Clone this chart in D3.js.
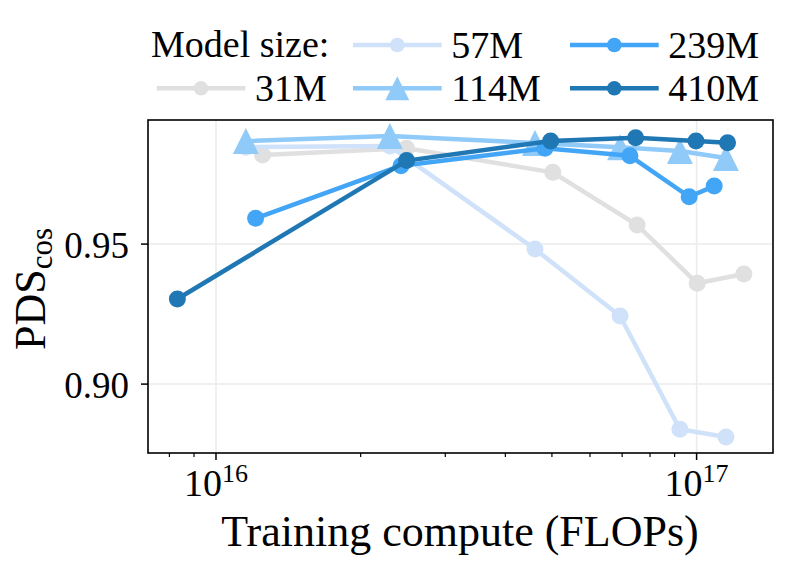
<!DOCTYPE html>
<html>
<head>
<meta charset="utf-8">
<script src="https://cdn.jsdelivr.net/npm/d3@7"></script>
<style>
  body { margin: 0; background: #fff; }
  text { font-family: "Liberation Serif", "Times New Roman", serif; fill: #000; }
</style>
</head>
<body>
<svg id="chart" width="794" height="570"></svg>
<script>
    // model sizes, colours and markers
    var sizes = ["31M", "57M", "114M", "239M", "410M"];
    var colors = ["#e0e0e0", "#d0e2f9", "#90caf9", "#42a5f5", "#1f77b4"];
    var markers = ["circle", "circle", "triangle", "circle", "circle"];

    // training compute (FLOPs) and PDS_cos per model size
    var flops31 = [1.25e16, 2.49e16, 5.02e16, 7.52e16, 1.003e17, 1.254e17];
    var pds31 = [0.9818, 0.9842, 0.9756, 0.9568, 0.9360, 0.9393];
    var flops57 = [1.154e16, 2.30e16, 4.61e16, 6.93e16, 9.23e16, 1.151e17];
    var pds57 = [0.9846, 0.9850, 0.9482, 0.9243, 0.8839, 0.8811];
    var flops114 = [1.154e16, 2.30e16, 4.61e16, 6.93e16, 9.23e16, 1.151e17];
    var pds114 = [0.9868, 0.9886, 0.9861, 0.9846, 0.9832, 0.9807];
    var flops239 = [1.209e16, 2.426e16, 4.835e16, 7.265e16, 9.65e16, 1.088e17];
    var pds239 = [0.9592, 0.9780, 0.9842, 0.9815, 0.9669, 0.9707];
    var flops410 = [8.31e15, 2.493e16, 4.97e16, 7.467e16, 9.97e16, 1.160e17];
    var pds410 = [0.9304, 0.9798, 0.9868, 0.9880, 0.9868, 0.9862];

    // ticks
    var xMajor = [1e16, 1e17];
    var xMinor = [8e15, 9e15, 2e16, 3e16, 4e16, 5e16, 6e16, 7e16, 8e16, 9e16];
    var xMajorLabels = [["10", "16"], ["10", "17"]];
    var yTicks = [0.90, 0.95];

(function() {
    'use strict';

    var flops = [flops31, flops57, flops114, flops239, flops410];
    var pds = [pds31, pds57, pds114, pds239, pds410];

    var svg = d3.select("#chart");
    var pl = 148, pt = 120, pr = 773, pb = 453;

    var x = d3.scaleLog().domain([7.22e15, 1.442e17]).range([pl, pr]);
    var y = d3.scaleLinear().domain([0.8754, 0.9943]).range([pb, pt]);

    // grid
    var grid = svg.append("g");
    grid.selectAll("line.gx").data(xMajor).enter().append("line")
        .attr("x1", function(d) { return x(d); })
        .attr("x2", function(d) { return x(d); })
        .attr("y1", pt).attr("y2", pb)
        .attr("stroke", "#ebebeb").attr("stroke-width", 1.5);
    grid.selectAll("line.gy").data(yTicks).enter().append("line")
        .attr("y1", function(d) { return y(d); })
        .attr("y2", function(d) { return y(d); })
        .attr("x1", pl).attr("x2", pr)
        .attr("stroke", "#ebebeb").attr("stroke-width", 1.5);

    // series
    var line = d3.line()
        .x(function(d) { return x(d[0]); })
        .y(function(d) { return y(d[1]); });

    function triPath(h) {
        return "M0," + (-h) + "L" + h + "," + h + "L" + (-h) + "," + h + "Z";
    }

    sizes.forEach(function(name, i) {
        var pts = d3.zip(flops[i], pds[i]);
        var g = svg.append("g");
        g.append("path")
            .attr("d", line(pts))
            .attr("fill", "none")
            .attr("stroke", colors[i])
            .attr("stroke-width", 4.5)
            .attr("stroke-linejoin", "round");
        if (markers[i] === "triangle") {
            g.selectAll("path.m").data(pts).enter().append("path")
                .attr("class", "m")
                .attr("d", triPath(13))
                .attr("transform", function(d) { return "translate(" + x(d[0]) + "," + y(d[1]) + ")"; })
                .attr("fill", colors[i]);
        } else {
            g.selectAll("circle").data(pts).enter().append("circle")
                .attr("cx", function(d) { return x(d[0]); })
                .attr("cy", function(d) { return y(d[1]); })
                .attr("r", 8.5)
                .attr("fill", colors[i]);
        }
    });

    // frame
    svg.append("rect")
        .attr("x", pl).attr("y", pt)
        .attr("width", pr - pl).attr("height", pb - pt)
        .attr("fill", "none").attr("stroke", "#000").attr("stroke-width", 1.6);

    // x ticks
    var ax = svg.append("g");
    ax.selectAll("line.maj").data(xMajor).enter().append("line")
        .attr("x1", function(d) { return x(d); }).attr("x2", function(d) { return x(d); })
        .attr("y1", pb).attr("y2", pb + 7)
        .attr("stroke", "#000").attr("stroke-width", 1.5);
    ax.selectAll("line.min").data(xMinor).enter().append("line")
        .attr("x1", function(d) { return x(d); }).attr("x2", function(d) { return x(d); })
        .attr("y1", pb).attr("y2", pb + 4)
        .attr("stroke", "#000").attr("stroke-width", 1.2);
    var xl = ax.selectAll("text.xl").data(xMajor).enter().append("text")
        .attr("x", function(d) { return x(d); })
        .attr("y", 496)
        .attr("text-anchor", "middle")
        .style("font-size", "38px");
    xl.append("tspan").text(function(d, i) { return xMajorLabels[i][0]; });
    xl.append("tspan").attr("dy", -14.5).style("font-size", "26px")
        .text(function(d, i) { return xMajorLabels[i][1]; });

    // y ticks
    var ay = svg.append("g");
    ay.selectAll("line").data(yTicks).enter().append("line")
        .attr("x1", pl - 7).attr("x2", pl)
        .attr("y1", function(d) { return y(d); }).attr("y2", function(d) { return y(d); })
        .attr("stroke", "#000").attr("stroke-width", 1.5);
    ay.selectAll("text").data(yTicks).enter().append("text")
        .attr("x", 129)
        .attr("y", function(d) { return y(d) + 14; })
        .attr("text-anchor", "end")
        .style("font-size", "37px")
        .text(function(d) { return d3.format(".2f")(d); });

    // axis labels
    svg.append("text")
        .attr("x", 460)
        .attr("y", 546)
        .attr("text-anchor", "middle")
        .style("font-size", "44px")
        .text("Training compute (FLOPs)");

    var yl = svg.append("text")
        .attr("transform", "translate(45,289) rotate(-90)")
        .attr("text-anchor", "middle")
        .style("font-size", "44px");
    yl.append("tspan").text("PDS");
    yl.append("tspan").attr("dy", 7).style("font-size", "31px").text("cos");

    // legend
    var leg = svg.append("g");
    leg.append("text").attr("x", 151).attr("y", 57).style("font-size", "38px").text("Model size:");
    var legPos = [[156.7, 88.3], [353, 45], [353, 88.3], [570, 45], [570, 88.3]];
    sizes.forEach(function(name, i) {
        var lx = legPos[i][0], ly = legPos[i][1];
        leg.append("line")
            .attr("x1", lx).attr("x2", lx + 88.7)
            .attr("y1", ly).attr("y2", ly)
            .attr("stroke", colors[i]).attr("stroke-width", 4.5);
        if (markers[i] === "triangle") {
            leg.append("path").attr("d", triPath(12))
                .attr("transform", "translate(" + (lx + 44.3) + "," + ly + ")")
                .attr("fill", colors[i]);
        } else {
            leg.append("circle").attr("cx", lx + 44.3).attr("cy", ly).attr("r", 7.3)
                .attr("fill", colors[i]);
        }
        leg.append("text").attr("x", lx + 98.3).attr("y", ly + 12.5)
            .style("font-size", "38px").text(name);
    });
})();
</script>
</body>
</html>
